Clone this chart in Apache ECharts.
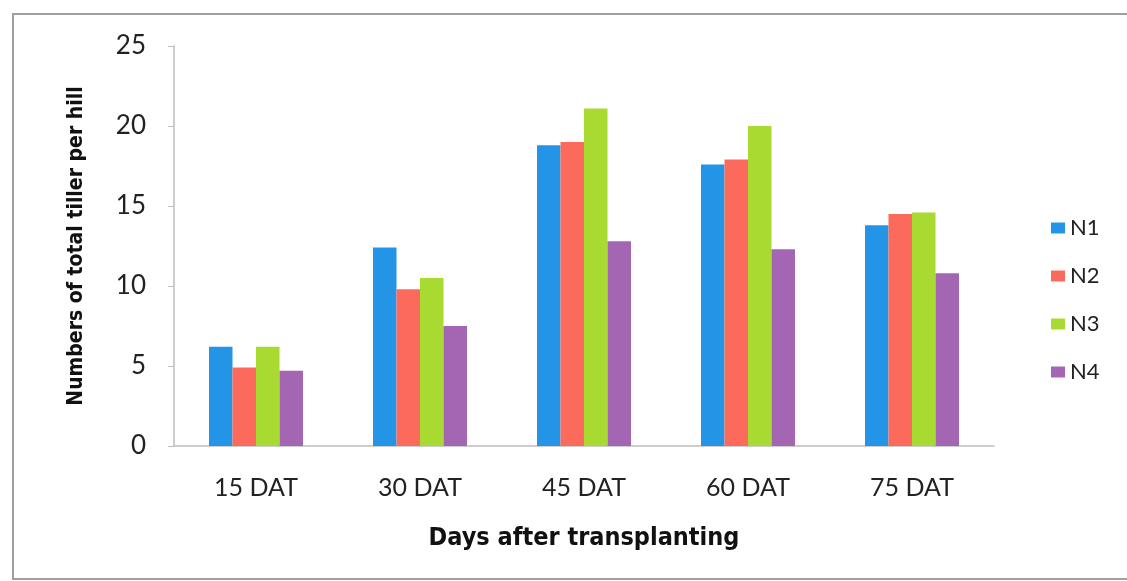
<!DOCTYPE html>
<html>
<head>
<meta charset="utf-8">
<script src="https://cdn.jsdelivr.net/npm/echarts@6/dist/echarts.min.js"></script>
<style>
  html, body { margin: 0; padding: 0; background: #fff; }
  #chart { width: 1127px; height: 581px; }
</style>
</head>
<body>
<div id="chart"></div>
<script>
// Total tillers per hill at each sampling date, by nitrogen treatment
const categories = ['15 DAT', '30 DAT', '45 DAT', '60 DAT', '75 DAT'];
const seriesNames = ['N1', 'N2', 'N3', 'N4'];
const n1 = [6.2, 12.4, 18.8, 17.6, 13.8];
const n2 = [4.9, 9.8, 19.0, 17.9, 14.5];
const n3 = [6.2, 10.5, 21.1, 20.0, 14.6];
const n4 = [4.7, 7.5, 12.8, 12.3, 10.8];
const yTicks = [0, 5, 10, 15, 20, 25];

const colors = ['#2394e6', '#fb6a5a', '#a8da31', '#a466b3'];
const values = [n1, n2, n3, n4];
const font = 'Lato, "Open Sans", sans-serif';
const titleFont = '"DejaVu Sans Condensed", Lato, sans-serif';

const chart = echarts.init(document.getElementById('chart'), null, { renderer: 'canvas' });

chart.setOption({
  backgroundColor: '#ffffff',
  animation: false,
  textStyle: { fontFamily: font },
  graphic: [{
    type: 'rect',
    shape: { x: 13, y: 14, width: 1130, height: 565 },
    style: { fill: 'none', stroke: '#a0a0a0', lineWidth: 2 },
    silent: true
  }],
  grid: { left: 174, right: 133, top: 46, bottom: 135, containLabel: false },
  legend: {
    orient: 'vertical',
    left: 1046,
    top: 212,
    itemWidth: 14,
    itemHeight: 11,
    itemGap: 26,
    icon: 'rect',
    textStyle: { fontSize: 22, color: '#222', fontFamily: font },
    data: seriesNames
  },
  xAxis: {
    type: 'category',
    data: categories,
    name: 'Days after transplanting',
    nameLocation: 'middle',
    nameGap: 80,
    nameTextStyle: { fontSize: 25, fontWeight: 'bold', color: '#111', fontFamily: titleFont },
    axisLine: { lineStyle: { color: '#bdbdbd', width: 1.5 } },
    axisTick: { show: false },
    axisLabel: { fontSize: 25, color: '#222', margin: 29, fontFamily: font }
  },
  yAxis: {
    type: 'value',
    min: yTicks[0],
    max: yTicks[yTicks.length - 1],
    interval: 5,
    name: 'Numbers of total tiller per hill',
    nameLocation: 'middle',
    nameGap: 87,
    nameTextStyle: { fontSize: 21, fontWeight: 'bold', color: '#111', fontFamily: titleFont },
    axisLine: { show: true, lineStyle: { color: '#bdbdbd', width: 1.5 } },
    axisTick: { show: true, length: 6, lineStyle: { color: '#bdbdbd' } },
    splitLine: { show: false },
    axisLabel: { fontSize: 26, color: '#222', margin: 28, fontFamily: font }
  },
  series: seriesNames.map((name, i) => ({
    name: name,
    type: 'bar',
    data: values[i],
    barWidth: 23.5,
    barGap: '0%',
    itemStyle: { color: colors[i] }
  }))
});
</script>
</body>
</html>
